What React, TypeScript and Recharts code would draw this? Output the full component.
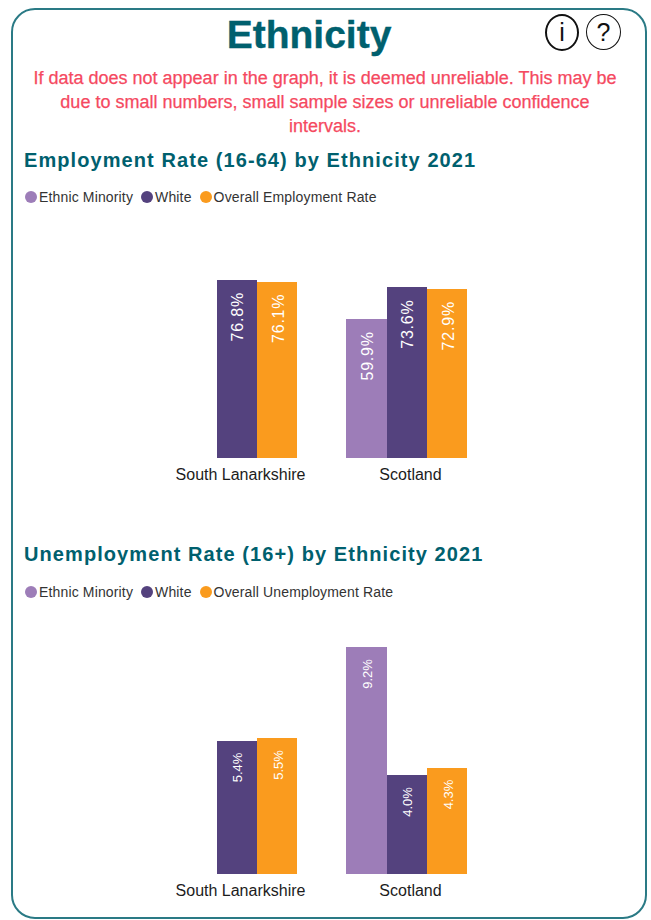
import React from "react";
import { BarChart, Bar, XAxis, YAxis, Legend, LabelList } from "recharts";

const categories = ["South Lanarkshire", "Scotland"];

const employmentMinority = [null, 59.9];
const employmentWhite = [76.8, 73.6];
const employmentOverall = [76.1, 72.9];

const unemploymentMinority = [null, 9.2];
const unemploymentWhite = [5.4, 4.0];
const unemploymentOverall = [5.5, 4.3];

const MINORITY = "#9d7db8";
const WHITE = "#54427e";
const OVERALL = "#fa9b1e";
const TEAL = "#00606e";
const FONT = "'Liberation Sans', Arial, sans-serif";

function buildRows(minority: (number | null)[], white: number[], overall: number[]) {
  return categories.map((name, i) => ({
    name,
    minority: minority[i],
    white: white[i],
    overall: overall[i],
  }));
}

// Vertical value label sitting just under the top of the bar
function rotatedLabel(fontSize: number, topGap: number, spacing: number) {
  return (props: any) => {
    const { x, y, width, value } = props;
    if (value === null || value === undefined) return null;
    const cx = x + width / 2 + 1;
    const cy = y + topGap;
    return (
      <text
        x={cx}
        y={cy}
        fill="#fff"
        fontSize={fontSize}
        fontFamily={FONT}
        letterSpacing={spacing}
        textAnchor="end"
        dominantBaseline="central"
        transform={`rotate(-90 ${cx} ${cy})`}
      >
        {Number(value).toFixed(1)}%
      </text>
    );
  };
}

function LegendRow({ payload }: any) {
  return (
    <div
      style={{
        display: "flex",
        fontFamily: FONT,
        fontSize: 14,
        letterSpacing: 0.15,
        color: "#333",
        lineHeight: "16px",
      }}
    >
      {(payload || []).map((entry: any) => (
        <div key={entry.value} style={{ display: "flex", alignItems: "center", marginRight: 8 }}>
          <span
            style={{
              width: 12,
              height: 12,
              borderRadius: "50%",
              background: entry.color,
              marginRight: 2,
            }}
          />
          {entry.value}
        </div>
      ))}
    </div>
  );
}

type PanelProps = {
  top: number;
  height: number;
  plotTop: number;
  domainMax: number;
  overallName: string;
  labelSize: number;
  labelSpacing: number;
  minority: (number | null)[];
  white: number[];
  overall: number[];
};

function RatePanel(props: PanelProps) {
  const { top, height, plotTop, domainMax, overallName, labelSize, labelSpacing } = props;
  const data = buildRows(props.minority, props.white, props.overall);
  const label = rotatedLabel(labelSize, 12, labelSpacing);
  return (
    <div style={{ position: "absolute", left: 0, top }}>
      <BarChart
        width={651}
        height={height}
        data={data}
        barGap={0}
        barSize={40.33}
        margin={{ top: plotTop, right: 159.6, bottom: 0, left: 151.4 }}
      >
        <XAxis
          dataKey="name"
          height={32}
          axisLine={false}
          tickLine={false}
          interval={0}
          dx={4.1}
          dy={2.7}
          tick={{ fill: "#1c1c1c", fontSize: 16, fontFamily: FONT }}
        />
        <YAxis hide domain={[0, domainMax]} />
        <Legend
          verticalAlign="middle"
          itemSorter={null}
          content={<LegendRow />}
          wrapperStyle={{ position: "absolute", left: 25, top: 4, width: 500 }}
        />
        <Bar dataKey="minority" name="Ethnic Minority" fill={MINORITY} shapeRendering="crispEdges" isAnimationActive={false}>
          <LabelList dataKey="minority" content={label} />
        </Bar>
        <Bar dataKey="white" name="White" fill={WHITE} shapeRendering="crispEdges" isAnimationActive={false}>
          <LabelList dataKey="white" content={label} />
        </Bar>
        <Bar dataKey="overall" name={overallName} fill={OVERALL} shapeRendering="crispEdges" isAnimationActive={false}>
          <LabelList dataKey="overall" content={label} />
        </Bar>
      </BarChart>
    </div>
  );
}

const headingStyle: React.CSSProperties = {
  position: "absolute",
  left: 24,
  margin: 0,
  fontFamily: FONT,
  fontSize: 20,
  fontWeight: 700,
  letterSpacing: 1.08,
  color: TEAL,
  lineHeight: "24px",
  whiteSpace: "nowrap",
};

const iconStyle: React.CSSProperties = {
  position: "absolute",
  top: 14,
  height: 33,
  borderStyle: "solid",
  borderColor: "#111",
  borderRadius: "50%",
  textAlign: "center",
  fontFamily: FONT,
  fontSize: 25,
  lineHeight: "33px",
  color: "#111",
};

export default function App() {
  return (
    <div style={{ position: "absolute", left: 0, top: 0, width: 651, height: 920, background: "#fff", overflow: "hidden" }}>
      <div
        style={{
          position: "absolute",
          left: 11,
          top: 8,
          width: 632,
          height: 907,
          border: "2.5px solid #2a7a85",
          borderRadius: 24,
        }}
      />
      <div
        style={{
          position: "absolute",
          left: 0,
          width: 618,
          top: 12,
          textAlign: "center",
          fontFamily: FONT,
          fontSize: 39,
          fontWeight: 700,
          lineHeight: "46px",
          color: TEAL,
          WebkitTextStroke: "0.35px " + TEAL,
        }}
      >
        Ethnicity
      </div>
      <div style={{ ...iconStyle, left: 545, width: 30, borderWidth: 2.5 }}>i</div>
      <div style={{ ...iconStyle, left: 586, width: 33, borderWidth: 1.5, height: 34, lineHeight: "34px" }}>?</div>
      <div
        style={{
          position: "absolute",
          left: 25,
          width: 600,
          top: 66,
          textAlign: "center",
          fontFamily: FONT,
          fontSize: 18,
          lineHeight: "24px",
          color: "#f5495f",
          WebkitTextStroke: "0.25px #f5495f",
        }}
      >
        If data does not appear in the graph, it is deemed unreliable. This may be due to small numbers, small sample
        sizes or unreliable confidence intervals.
      </div>

      <h2 style={{ ...headingStyle, top: 148 }}>Employment Rate (16-64) by Ethnicity 2021</h2>
      <RatePanel
        top={185}
        height={305}
        plotTop={87.6}
        domainMax={80}
        overallName="Overall Employment Rate"
        labelSize={16}
        labelSpacing={0.8}
        minority={employmentMinority}
        white={employmentWhite}
        overall={employmentOverall}
      />

      <h2 style={{ ...headingStyle, top: 542 }}>Unemployment Rate (16+) by Ethnicity 2021</h2>
      <RatePanel
        top={580}
        height={325.5}
        plotTop={47.5}
        domainMax={10}
        overallName="Overall Unemployment Rate"
        labelSize={13}
        labelSpacing={0}
        minority={unemploymentMinority}
        white={unemploymentWhite}
        overall={unemploymentOverall}
      />
    </div>
  );
}
